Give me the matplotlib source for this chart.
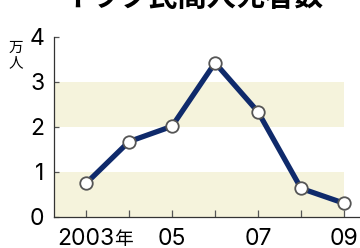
import matplotlib
matplotlib.use("Agg")
import matplotlib.pyplot as plt

plt.rcParams['font.family'] = ['Inter', 'Noto Sans CJK JP']

# data (unit: 10,000 people)
years = [2003, 2004, 2005, 2006, 2007, 2008, 2009]
deaths = [0.74, 1.67, 2.01, 3.42, 2.33, 0.63, 0.30]
tick_years = [2003, 2005, 2007, 2009]
tick_labels = ['2003', '05', '07', '09']
bands = [(0, 1), (2, 3)]

navy = '#0f2a6b'
band_col = '#f5f3dc'
axis_col = '#555555'
fs = 16.5

fig = plt.figure(figsize=(3.6, 2.48), dpi=100)
ax = fig.add_axes([0.15, 0.126, 0.85, 0.726])

x0, x1 = 2002.256, 2009.37
for lo, hi in bands:
    ax.fill_between([x0, 2009], lo, hi, color=band_col, lw=0, zorder=0)

ax.plot(years, deaths, color=navy, lw=3.8, solid_joinstyle='miter', zorder=2)
ax.plot(years, deaths, 'o', ms=9, mfc='white', mec=axis_col, mew=1.3, zorder=3)

ax.set_xlim(x0, x1)
ax.set_ylim(0, 4)
ax.set_yticks([0, 1, 2, 3, 4])
ax.set_xticks(years)
ax.set_xticklabels(['' for y in years])
for y, lab in zip(tick_years, tick_labels):
    ax.annotate(lab, xy=(y, 0), xycoords='data', xytext=(0, -20.5),
                textcoords='offset points', ha='center', va='baseline', fontsize=fs)
# 年 hangs right of the first year's digits
ax.annotate('年', xy=(2003.66, 0), xycoords='data', xytext=(0, -20),
            textcoords='offset points', ha='left', va='baseline', fontsize=13.5,
            family=['Noto Sans CJK JP'])

ax.tick_params(axis='x', direction='in', length=5, width=0.9, color=axis_col)
ax.tick_params(axis='y', direction='in', length=3.5, width=0.9, color=axis_col,
               labelsize=fs, pad=7)

for s in ['top', 'right']:
    ax.spines[s].set_visible(False)
for s in ['left', 'bottom']:
    ax.spines[s].set_color('#333333')
    ax.spines[s].set_linewidth(0.9)

fig.text(0.025, 0.835, '万\n人', fontsize=10.5, family=['Noto Sans CJK JP'],
         ha='left', va='top', linespacing=1.15)

fig.text(0.535, 0.974, 'イラク民間人死者数', fontsize=21, fontweight='bold',
         family=['Noto Sans CJK JP'], ha='center', va='baseline')

fig.savefig('out.png', dpi=100)
